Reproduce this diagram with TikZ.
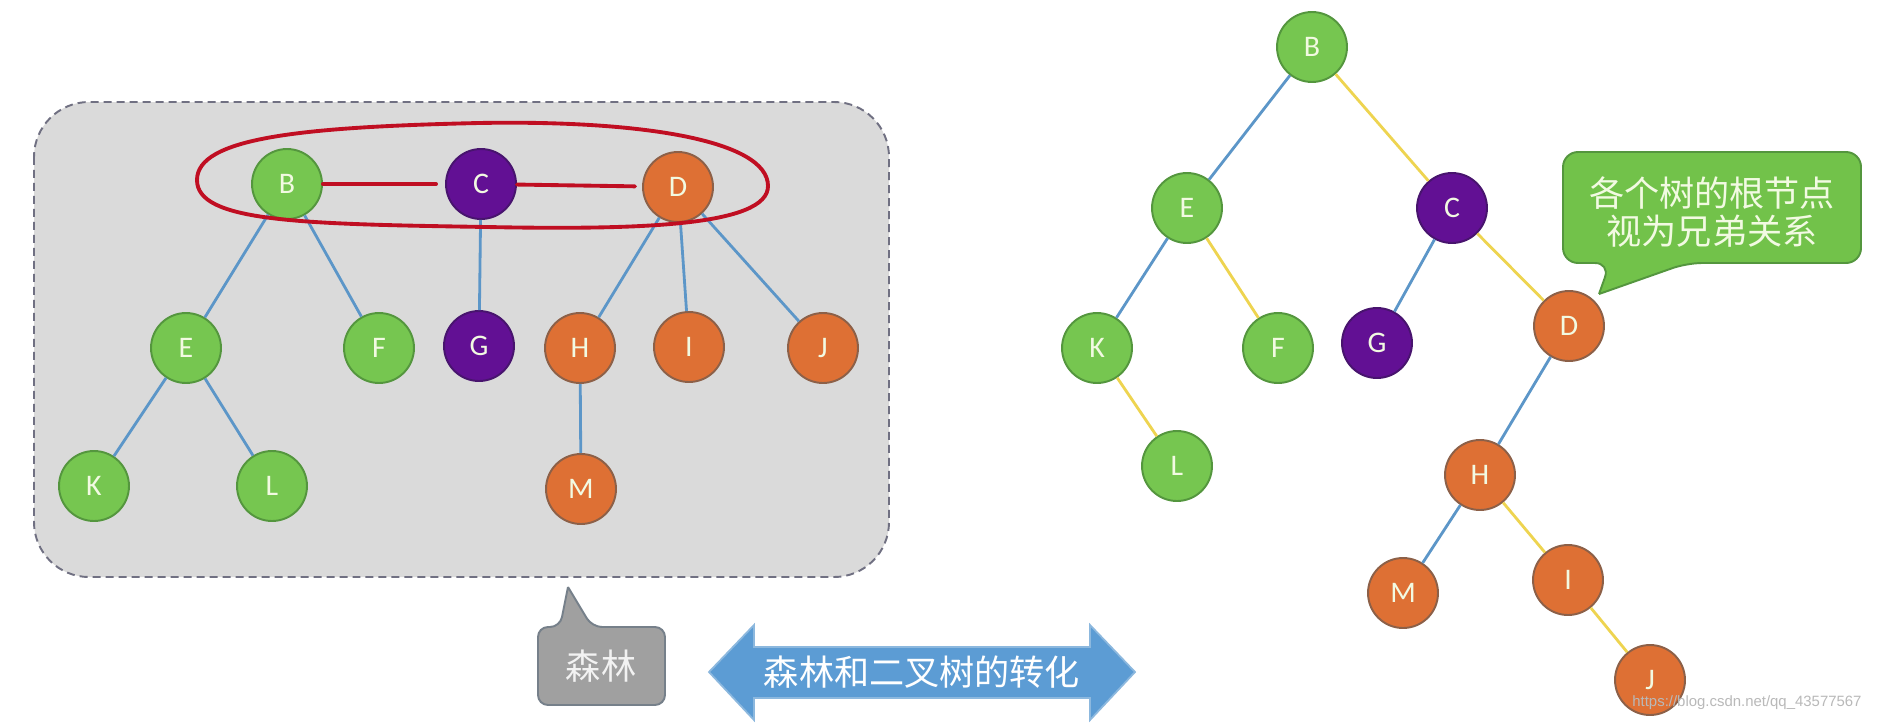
\documentclass[tikz,border=0pt]{standalone}
\usepackage{fontspec}
\setmainfont{Carlito}
\newfontfamily\cjk{Noto Sans CJK SC}
\newfontfamily\urlfont{Liberation Sans}
\usepackage{tikz}
\usetikzlibrary{positioning}
\definecolor{leafgreen}{RGB}{118,198,80}
\definecolor{leafgreenline}{RGB}{84,150,62}
\definecolor{rootpurple}{RGB}{98,16,148}
\definecolor{rootpurpleline}{RGB}{72,20,110}
\definecolor{nodeorange}{RGB}{222,112,52}
\definecolor{nodeorangeline}{RGB}{140,96,72}
\definecolor{childblue}{RGB}{92,150,200}
\definecolor{siblingyellow}{RGB}{238,212,80}
\definecolor{forestgray}{RGB}{218,218,218}
\definecolor{forestdash}{RGB}{112,112,130}
\definecolor{loopred}{RGB}{192,14,34}
\definecolor{callgray}{RGB}{160,160,160}
\definecolor{callgrayline}{RGB}{118,128,138}
\definecolor{arrowblue}{RGB}{92,156,212}
\definecolor{arrowblueline}{RGB}{140,184,222}
\definecolor{callgreen}{RGB}{114,194,74}
\definecolor{callgreenline}{RGB}{84,150,62}
\definecolor{lettertext}{RGB}{242,250,226}

\begin{document}
\begin{tikzpicture}[
  x=0.02cm, y=-0.02cm,
  every node/.style={font=\fontsize{17pt}{20pt}\selectfont,text=lettertext},
  vtx/.style={circle,minimum size=1.4cm,inner sep=0pt,line width=1.1pt},
  gnode/.style={vtx,fill=leafgreen,draw=leafgreenline},
  pnode/.style={vtx,fill=rootpurple,draw=rootpurpleline},
  onode/.style={vtx,fill=nodeorange,draw=nodeorangeline},
  childedge/.style={childblue,line width=1.6pt},
  sibedge/.style={siblingyellow,line width=1.6pt},
  handline/.style={loopred,line width=2.2pt,line cap=round},
  cjktext/.style={font=\cjk\fontsize{20pt}{22pt}\selectfont,align=center}
]
  \useasboundingbox (0,0) rectangle (1889,724);
  \fill[white] (0,0) rectangle (1889,724);

  \draw[fill=forestgray,draw=forestdash,line width=1.1pt,dash pattern=on 0.16cm off 0.1cm,rounded corners=1.1cm]
    (34,102) rectangle (889,577);

  \node[gnode] (fB) at (287,184) {B};
  \node[pnode] (fC) at (481,184) {C};
  \node[onode] (fD) at (678,187) {D};
  \node[gnode] (fE) at (186,348) {E};
  \node[gnode] (fF) at (379,348) {F};
  \node[pnode] (fG) at (479,346) {G};
  \node[onode] (fH) at (580,348) {H};
  \node[onode] (fI) at (689,347) {I};
  \node[onode] (fJ) at (823,348) {J};
  \node[gnode] (fK) at (94,486) {K};
  \node[gnode] (fL) at (272,486) {L};
  \node[onode] (fM) at (581,489) {M};
  \foreach \a/\b in {fB/fE,fB/fF,fC/fG,fD/fH,fD/fI,fD/fJ,fE/fK,fE/fL,fH/fM} \draw[childedge] (\a)--(\b);

  \draw[handline] (197,180) .. controls (197,138) and (300,127) .. (479,123)
    .. controls (640,120) and (768,140) .. (768,186)
    .. controls (768,226) and (640,230) .. (487,227)
    .. controls (300,224) and (197,222) .. (197,180);
  \draw[handline,shorten >=0.18cm] (fB)--(fC);
  \draw[handline,shorten >=0.14cm] (fC)--(fD);

  \draw[fill=callgray,draw=callgrayline,line width=1.1pt,rounded corners=0.2cm]
    (568,587) -- (592,627) -- (665,627) -- (665,705) -- (538,705) -- (538,627) -- (560,627) -- (568,587);
  \node[cjktext,text=white!90!gray] (forestlbl) at (601,666) {森林};

  \draw[fill=arrowblue,draw=arrowblueline,line width=1pt]
    (709,672) -- (754,625) -- (754,647) -- (1090,647) -- (1090,625) -- (1135,672)
    -- (1090,720) -- (1090,698) -- (754,698) -- (754,720) -- cycle;
  \node[cjktext,text=white] (convlbl) at (922,672) {森林和二叉树的转化};

  \node[gnode] (tB) at (1312,47) {B};
  \node[gnode] (tE) at (1187,208) {E};
  \node[pnode] (tC) at (1452,208) {C};
  \node[gnode] (tK) at (1097,348) {K};
  \node[gnode] (tF) at (1278,348) {F};
  \node[pnode] (tG) at (1377,343) {G};
  \node[onode] (tD) at (1569,326) {D};
  \node[gnode] (tL) at (1177,466) {L};
  \node[onode] (tH) at (1480,475) {H};
  \node[onode] (tM) at (1403,593) {M};
  \node[onode] (tI) at (1568,580) {I};
  \node[onode] (tJ) at (1650,680) {J};
  \foreach \a/\b in {tB/tE,tE/tK,tC/tG,tD/tH,tH/tM} \draw[childedge] (\a)--(\b);
  \foreach \a/\b in {tB/tC,tE/tF,tK/tL,tC/tD,tH/tI,tI/tJ} \draw[sibedge] (\a)--(\b);

  \draw[fill=callgreen,draw=callgreenline,line width=1.1pt,rounded corners=0.3cm]
    (1599,294) -- (1687,263) -- (1861,263) -- (1861,152) -- (1563,152) -- (1563,263) -- (1610,263) -- (1599,294);
  \node[cjktext,text=lettertext] (rootnote) at (1712,212) {各个树的根节点\\视为兄弟关系};

  \node[font=\urlfont\fontsize{8.5pt}{10pt}\selectfont,text=gray!55,anchor=west,inner sep=0pt] (wmark) at (1632,703) {https://blog.csdn.net/qq\_43577567};
\end{tikzpicture}
\end{document}
